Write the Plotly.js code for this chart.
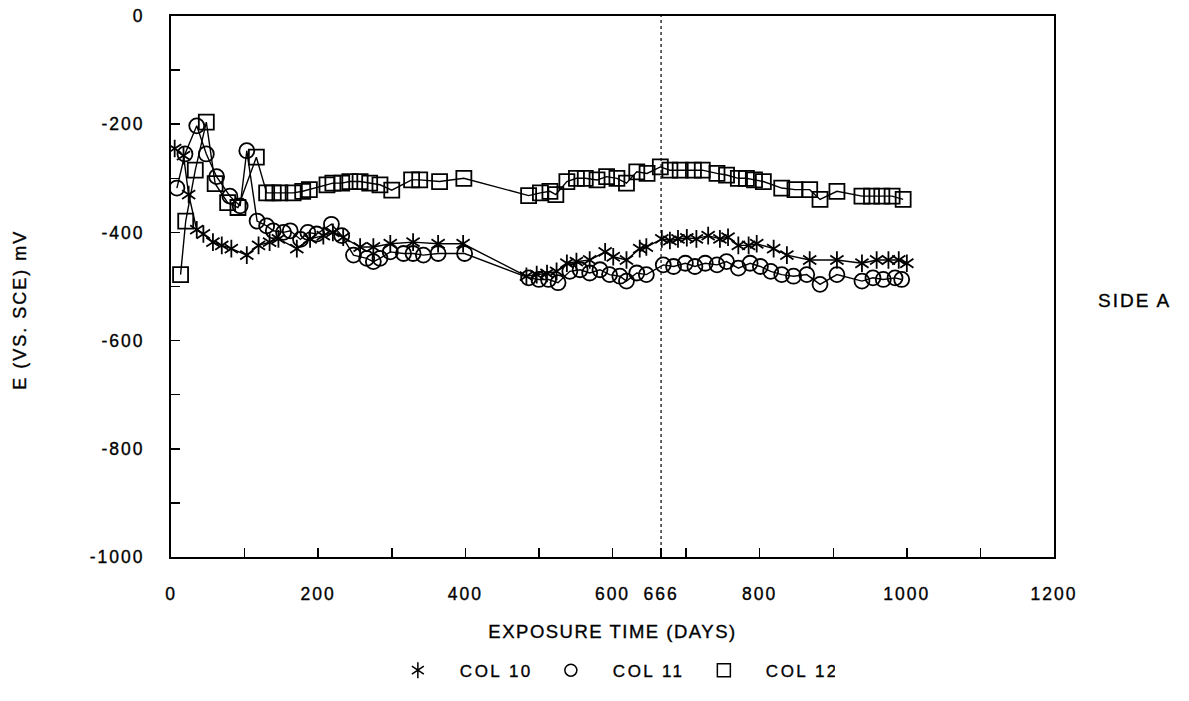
<!DOCTYPE html>
<html>
<head>
<meta charset="utf-8">
<script src="https://cdn.plot.ly/plotly-3.0.1.min.js"></script>
<style>
  html, body { margin: 0; padding: 0; background: #fff; }
  #chart { width: 1189px; height: 701px; }
  #chart text { stroke: #000; stroke-width: 0.35px; }
  #chart .xtick text, #chart .ytick text { letter-spacing: 2px; }
  #chart .g-xtitle text { letter-spacing: 1.5px; }
  #chart .legendtext { letter-spacing: 2.5px; }
  #chart .annotation-text { letter-spacing: 2px; }
</style>
</head>
<body>
<div id="chart"></div>
<script>
// Open-circuit potential of three columns over the exposure period
const col10Days = [5, 17, 24, 35, 44, 57, 69, 82, 103, 119, 134, 146, 171, 189, 207, 220, 234, 257, 275, 298, 329, 363, 397,
  483, 497, 511, 524, 538, 551, 569, 590, 601, 619, 637, 646, 667, 678, 689, 701, 714, 730, 746, 757, 771, 785, 796, 819,
  837, 868, 905, 939, 959, 975, 989, 1000];
const col10Mv = [-245, -258, -330, -395, -403, -418, -424, -430, -442, -424, -418, -412, -430, -412, -406, -400, -409, -427, -427, -421, -418, -421, -421,
  -481, -478, -476, -472, -457, -454, -451, -436, -445, -451, -430, -427, -412, -415, -412, -410, -412, -406, -412, -409, -424, -424, -421, -430,
  -442, -451, -451, -457, -451, -451, -451, -457];

const col11Days = [8, 19, 35, 48, 62, 80, 94, 103, 117, 130, 139, 153, 162, 176, 186, 198, 218, 232, 248, 266, 275, 284, 298, 316, 329, 343, 363, 399,
  486, 500, 513, 526, 542, 556, 569, 583, 596, 610, 619, 633, 646, 669, 683, 699, 712, 726, 742, 755, 771, 787, 801, 815, 830,
  846, 864, 882, 905, 939, 954, 968, 984, 993];
const col11Mv = [-318, -255, -203, -255, -297, -333, -351, -249, -379, -388, -397, -400, -397, -413, -400, -403, -385, -406, -442, -448, -454, -448, -436, -439, -439, -442, -439, -439,
  -484, -487, -487, -493, -472, -469, -475, -469, -478, -481, -490, -475, -478, -460, -463, -457, -463, -457, -460, -454, -466, -457, -463, -472, -478,
  -481, -478, -496, -478, -490, -484, -487, -484, -487];

const col12Days = [13, 20, 33, 48, 60, 77, 91, 116, 130, 139, 148, 166, 179, 188, 212, 220, 232, 243, 257, 270, 284, 300, 327, 338, 365, 398,
  486, 502, 515, 523, 538, 551, 563, 579, 592, 606, 619, 633, 647, 665, 678, 692, 710, 722, 742, 755, 771, 782, 793, 805,
  830, 848, 868, 882, 905, 939, 952, 966, 980, 995];
const col12Mv = [-478, -379, -285, -196, -310, -345, -354, -261, -327, -327, -327, -327, -324, -321, -312, -309, -309, -306, -306, -309, -312, -322, -303, -303, -306, -300,
  -332, -327, -324, -330, -306, -300, -300, -303, -297, -300, -309, -288, -291, -279, -285, -285, -285, -285, -291, -294, -300, -300, -303, -306,
  -318, -321, -321, -339, -324, -333, -333, -333, -333, -339];

const seriesNames = ['COL 10', 'COL 11', 'COL 12'];
const xTickVals = [0, 200, 400, 600, 666, 800, 1000, 1200];
const xTickText = ['0', '200', '400', '600', '666', '800', '1000', '1200'];
const xMinorVals = [100, 300, 500, 700, 900, 1100];
const yTickVals = [0, -200, -400, -600, -800, -1000];
const yTickText = ['0', '-200', '-400', '-600', '-800', '-1000'];
const yMinorVals = [-100, -300, -500, -700, -900];
const markerDay = 666;

const FONT = 'Liberation Sans, Arial, Helvetica, sans-serif';
const INK = '#000';

const lineStyle = { color: INK, width: 1.4 };
const edge = { color: INK, width: 1.8 };
const traces = [
  // COL 10: six-armed asterisk built from an upward and a downward "Y"
  { x: col10Days, y: col10Mv, mode: 'lines+markers', name: seriesNames[0], showlegend: false,
    line: lineStyle, marker: { symbol: 'y-up-open', size: 11, color: INK, line: edge } },
  { x: col10Days, y: col10Mv, mode: 'markers', name: seriesNames[0], showlegend: false,
    marker: { symbol: 'y-down-open', size: 11, color: INK, line: edge } },
  { x: col11Days, y: col11Mv, mode: 'lines+markers', name: seriesNames[1], showlegend: false,
    line: lineStyle, marker: { symbol: 'circle-open', size: 15, color: INK, line: edge } },
  { x: col12Days, y: col12Mv, mode: 'lines+markers', name: seriesNames[2], showlegend: false,
    line: lineStyle, marker: { symbol: 'square-open', size: 15, color: INK, line: edge } },
  // legend entries (symbols only)
  { x: [null], y: [null], mode: 'markers', name: seriesNames[0], legendrank: 1,
    marker: { symbol: 'y-up-open', size: 10, color: INK, line: { color: INK, width: 1.5 } } },
  { x: [null], y: [null], mode: 'markers', name: seriesNames[1], legendrank: 2,
    marker: { symbol: 'circle-open', size: 12, color: INK, line: { color: INK, width: 1.5 } } },
  { x: [null], y: [null], mode: 'markers', name: seriesNames[2], legendrank: 3,
    marker: { symbol: 'square-open', size: 13, color: INK, line: { color: INK, width: 1.5 } } }
];

const axisCommon = {
  showgrid: false, zeroline: false,
  showline: true, mirror: true, linecolor: INK, linewidth: 2,
  ticks: 'inside', ticklen: 9, tickwidth: 1.5, tickcolor: INK,
  tickfont: { family: FONT, size: 17.5, color: INK },
  tickmode: 'array'
};

const layout = {
  width: 1189, height: 701,
  margin: { l: 171, r: 135, t: 16, b: 133 },
  paper_bgcolor: '#fff', plot_bgcolor: '#fff',
  font: { family: FONT, color: INK },
  xaxis: Object.assign({}, axisCommon, {
    range: [0, 1200], tickvals: xTickVals, ticktext: xTickText, ticklabelstandoff: 20,
    minor: { tickmode: 'array', tickvals: xMinorVals, ticks: 'inside', ticklen: 9, tickwidth: 1.5, tickcolor: INK },
    title: { text: 'EXPOSURE TIME (DAYS)', font: { family: FONT, size: 18.5, color: INK }, standoff: 22 }
  }),
  yaxis: Object.assign({}, axisCommon, {
    range: [-1000, 0], tickvals: yTickVals, ticktext: yTickText, ticklabelstandoff: 21,
    minor: { tickmode: 'array', tickvals: yMinorVals, ticks: 'inside', ticklen: 9, tickwidth: 1.5, tickcolor: INK }
  }),
  shapes: [{
    type: 'line', xref: 'x', yref: 'paper', x0: markerDay, x1: markerDay, y0: 0, y1: 1,
    line: { color: INK, width: 1.2, dash: 'dot' }
  }],
  annotations: [
    { text: 'E (VS. SCE) mV', xref: 'paper', yref: 'paper', x: -0.171, y: 0.457, textangle: -90,
      xanchor: 'center', yanchor: 'middle', showarrow: false,
      font: { family: FONT, size: 18, color: INK } },
    { text: 'SIDE A', xref: 'paper', yref: 'paper', x: 1.092, y: 0.475,
      xanchor: 'center', yanchor: 'middle', showarrow: false,
      font: { family: FONT, size: 19, color: INK } }
  ],
  showlegend: true,
  legend: {
    orientation: 'h', x: 0.232, xanchor: 'left', y: -0.21, yanchor: 'middle',
    font: { family: FONT, size: 17, color: INK },
    itemwidth: 74, entrywidth: 64, entrywidthmode: 'pixels',
    bgcolor: 'rgba(0,0,0,0)', traceorder: 'normal'
  }
};

Plotly.newPlot('chart', traces, layout, { displayModeBar: false, staticPlot: true }).then(function (gd) {
  // complete the COL 10 legend glyph with its mirrored arms
  const pts = gd.querySelectorAll('.legend .traces .legendpoints path.scatterpts');
  if (pts.length) {
    const p = pts[0];
    const d = p.getAttribute('d');
    const mirrored = d.replace(/,(-?[\d.]+)/g, function (m, v) { return ',' + (-parseFloat(v)); });
    p.setAttribute('d', d + mirrored);
  }
});
</script>
</body>
</html>
